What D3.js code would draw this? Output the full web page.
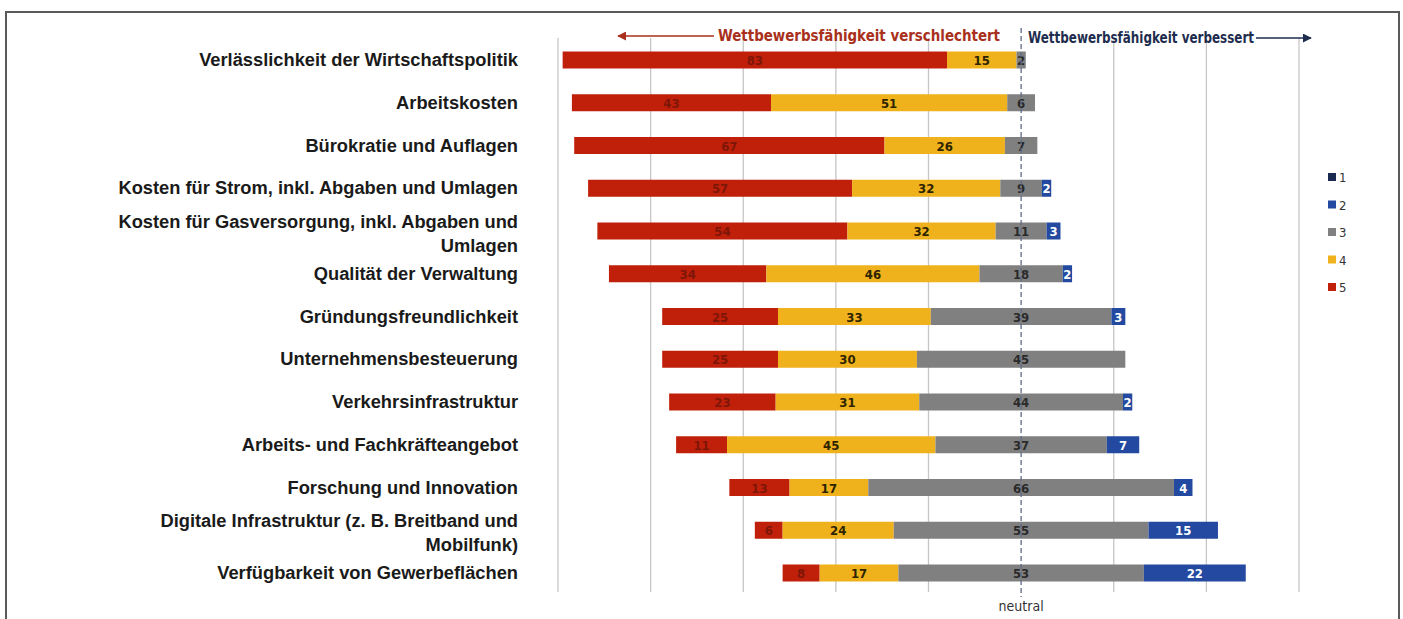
<!DOCTYPE html>
<html>
<head>
<meta charset="utf-8">
<script src="https://cdn.jsdelivr.net/npm/d3@7"></script>
<style>
  body { margin: 0; background: #fff; }
  svg { display: block; }
</style>
</head>
<body>
<div id="chart"></div>
<script>
// categories (top to bottom)
const categories = [
    ["Verlässlichkeit der Wirtschaftspolitik"],
    ["Arbeitskosten"],
    ["Bürokratie und Auflagen"],
    ["Kosten für Strom, inkl. Abgaben und Umlagen"],
    ["Kosten für Gasversorgung, inkl. Abgaben und", "Umlagen"],
    ["Qualität der Verwaltung"],
    ["Gründungsfreundlichkeit"],
    ["Unternehmensbesteuerung"],
    ["Verkehrsinfrastruktur"],
    ["Arbeits- und Fachkräfteangebot"],
    ["Forschung und Innovation"],
    ["Digitale Infrastruktur (z. B. Breitband und", "Mobilfunk)"],
    ["Verfügbarkeit von Gewerbeflächen"]
];

// shares per rating (percent)
const rating5 = [83, 43, 67, 57, 54, 34, 25, 25, 23, 11, 13, 6, 8];
const rating4 = [15, 51, 26, 32, 32, 46, 33, 30, 31, 45, 17, 24, 17];
const rating3 = [2, 6, 7, 9, 11, 18, 39, 45, 44, 37, 66, 55, 53];
const rating2 = [0, 0, 0, 2, 3, 2, 3, 0, 2, 7, 4, 15, 22];
const rating1 = [0, 0, 0, 0, 0, 0, 0, 0, 0, 0, 0, 0, 0];

const legendLabels = ["1", "2", "3", "4", "5"];
const gridTicks = [-100, -80, -60, -40, -20, 0, 20, 40, 60];

const colors = { "1": "#1b2a50", "2": "#2349a0", "3": "#808080", "4": "#efb21c", "5": "#c0200a" };
const labelColors = { "1": "#ffffff", "2": "#ffffff", "3": "#2a2a2a", "4": "#2e2400", "5": "#7e1608" };

const narrow = "'Liberation Sans Narrow', 'DejaVu Sans Condensed', 'Liberation Sans', sans-serif";

const W = 1403, H = 619;
const svg = d3.select("#chart").append("svg")
    .attr("width", W)
    .attr("height", H);

// frame
svg.append("path")
    .attr("d", `M6,${H} L6,12 L1399,12 L1399,${H}`)
    .attr("fill", "none")
    .attr("stroke", "#5a5a5a")
    .attr("stroke-width", 2);

const x = d3.scaleLinear().domain([-100, 60]).range([558, 1299]);
const y = d3.scalePoint().domain(d3.range(categories.length)).range([60, 573]);
const barH = 17;

// grid
svg.append("g").selectAll("line")
    .data(gridTicks.filter(d => d !== 0))
    .enter().append("line")
    .attr("x1", d => x(d)).attr("x2", d => x(d))
    .attr("y1", 38).attr("y2", 592)
    .attr("stroke", "#c6c6c6")
    .attr("stroke-width", 1.3);

// build segments: order 5,4,3,2,1 starting left of neutral
const rows = categories.map((c, i) => {
    const vals = { "5": rating5[i], "4": rating4[i], "3": rating3[i], "2": rating2[i], "1": rating1[i] };
    let pos = -(vals["5"] + vals["4"] + vals["3"] / 2);
    const segs = [];
    ["5", "4", "3", "2", "1"].forEach(k => {
        segs.push({ key: k, v: vals[k], x0: pos, x1: pos + vals[k], row: i });
        pos += vals[k];
    });
    return segs;
});
const segments = rows.flat().filter(d => d.v > 0);

svg.append("g").selectAll("rect")
    .data(segments)
    .enter().append("rect")
    .attr("x", d => x(d.x0))
    .attr("y", d => y(d.row) - barH / 2)
    .attr("width", d => x(d.x1) - x(d.x0))
    .attr("height", barH)
    .attr("fill", d => colors[d.key]);

svg.append("g").selectAll("text")
    .data(segments)
    .enter().append("text")
    .attr("x", d => x((d.x0 + d.x1) / 2))
    .attr("y", d => y(d.row) + 5)
    .attr("text-anchor", "middle")
    .attr("font-family", narrow)
    .attr("font-weight", "bold")
    .attr("font-size", 13)
    .attr("fill", d => labelColors[d.key])
    .text(d => d.v);

// neutral line
svg.append("line")
    .attr("x1", x(0)).attr("x2", x(0))
    .attr("y1", 28).attr("y2", 597)
    .attr("stroke", "#5d6b88")
    .attr("stroke-width", 1.3)
    .attr("stroke-dasharray", "5,3");

svg.append("text")
    .attr("x", x(0)).attr("y", 611)
    .attr("text-anchor", "middle")
    .attr("font-family", narrow)
    .attr("font-size", 14)
    .attr("fill", "#333")
    .text("neutral");

// category labels
const lab = svg.append("g").selectAll("text")
    .data(categories)
    .enter().append("text")
    .attr("text-anchor", "end")
    .attr("font-family", "'Liberation Sans', Arial, sans-serif")
    .attr("font-weight", "bold")
    .attr("font-size", 18.3)
    .attr("fill", "#1a1a1a");
lab.each(function(d, i) {
    const t = d3.select(this);
    const base = d.length > 1 ? y(i) - 3 : y(i) + 6;
    d.forEach((line, j) => {
        t.append("tspan").attr("x", 518).attr("y", base + j * 24).text(line);
    });
});

// header arrows
const defs = svg.append("defs");
[["arrRed", "#a8301c"], ["arrBlue", "#1e2d4e"]].forEach(([id, c]) => {
    defs.append("marker")
        .attr("id", id)
        .attr("viewBox", "0 0 10 10")
        .attr("refX", 9).attr("refY", 5)
        .attr("markerWidth", 6).attr("markerHeight", 6)
        .attr("orient", "auto-start-reverse")
        .append("path").attr("d", "M0,0 L10,5 L0,10 Z").attr("fill", c);
});

svg.append("line")
    .attr("x1", 714).attr("x2", 618).attr("y1", 36).attr("y2", 36)
    .attr("stroke", "#a8301c").attr("stroke-width", 1.5)
    .attr("marker-end", "url(#arrRed)");
svg.append("text")
    .attr("x", 718).attr("y", 41)
    .attr("textLength", 282)
    .attr("lengthAdjust", "spacingAndGlyphs")
    .attr("font-family", narrow)
    .attr("font-weight", "bold")
    .attr("font-size", 16)
    .attr("fill", "#a8301c")
    .text("Wettbewerbsfähigkeit verschlechtert");

svg.append("text")
    .attr("x", 1028).attr("y", 43)
    .attr("textLength", 226)
    .attr("lengthAdjust", "spacingAndGlyphs")
    .attr("font-family", narrow)
    .attr("font-weight", "bold")
    .attr("font-size", 16)
    .attr("fill", "#1e2d4e")
    .text("Wettbewerbsfähigkeit verbessert");
svg.append("line")
    .attr("x1", 1256).attr("x2", 1311).attr("y1", 38).attr("y2", 38)
    .attr("stroke", "#1e2d4e").attr("stroke-width", 1.5)
    .attr("marker-end", "url(#arrBlue)");

// legend
const leg = svg.append("g").selectAll("g")
    .data(legendLabels)
    .enter().append("g")
    .attr("transform", (d, i) => `translate(1328, ${177 + i * 27.5})`);
leg.append("rect")
    .attr("x", 0).attr("y", -4)
    .attr("width", 8).attr("height", 8)
    .attr("fill", d => colors[d]);
leg.append("text")
    .attr("x", 11).attr("y", 5)
    .attr("font-family", narrow)
    .attr("font-size", 13)
    .attr("fill", "#333")
    .text(d => d);
</script>
</body>
</html>
